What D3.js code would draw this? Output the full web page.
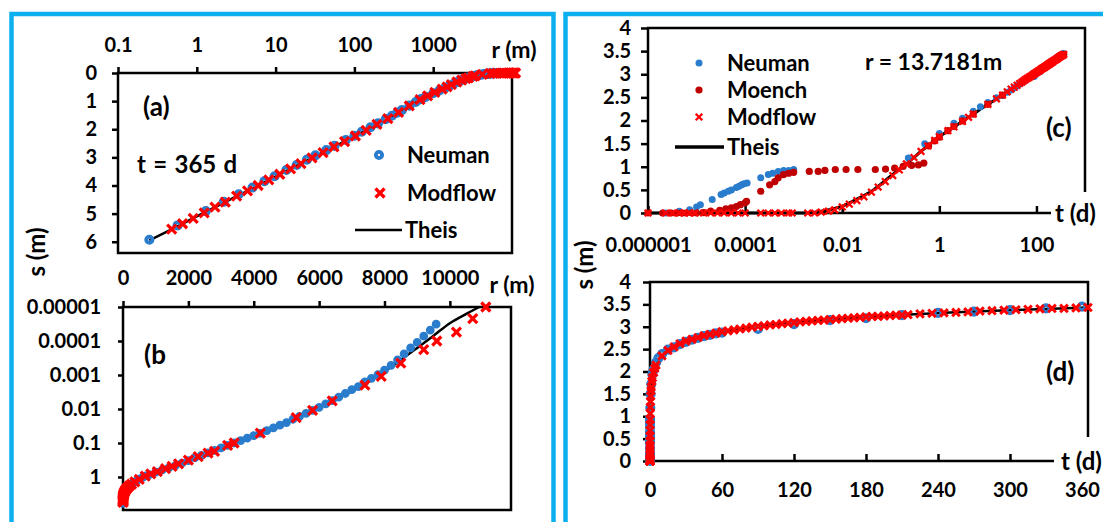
<!DOCTYPE html>
<html>
<head>
<meta charset="utf-8">
<script src="https://cdn.jsdelivr.net/npm/d3@7"></script>
<style>
  body { margin: 0; background: #fff; }
</style>
</head>
<body>
<svg id="chart"></svg>
<script>
// ---- data: panels (a) and (b), drawdown s (m) against distance r (m) at t = 365 d ----
const neumanR = [0.25, 0.57, 1.3, 2.2, 3.4, 5.1, 7.2, 9.7, 13.7, 18.5,
  25, 32, 44, 56, 78, 100, 124, 160, 200, 250,
  300, 350, 400, 500, 600, 700, 800,
  1000, 1200, 1400, 1600, 1800, 2000, 2200, 2400, 2600, 2800,
  3000, 3200, 3400, 3600, 3800, 4000, 4200, 4400, 4600, 4800,
  5000, 5200, 5400, 5600, 5800, 6000, 6200, 6400, 6600, 6800,
  7000, 7200, 7400, 7600, 7800, 8000, 8200, 8400, 8600, 8800,
  9000, 9200, 9400, 9580];
const neumanS = [5.93, 5.42, 4.91, 4.58, 4.31, 4.07, 3.85, 3.67, 3.45, 3.27,
  3.08, 2.93, 2.74, 2.59, 2.38, 2.23, 2.09, 1.93, 1.79, 1.64,
  1.52, 1.41, 1.32, 1.16, 1.03, 0.93, 0.85,
  0.72, 0.62, 0.54, 0.46, 0.39, 0.33, 0.27, 0.23, 0.195, 0.165,
  0.14, 0.118, 0.1, 0.085, 0.072, 0.061, 0.052, 0.043, 0.036, 0.03,
  0.025, 0.02, 0.0165, 0.0135, 0.011, 0.0089, 0.0071, 0.0057, 0.0045, 0.0035,
  0.0027, 0.0022, 0.0016, 0.00125, 0.00098, 0.00072, 0.00052, 0.00036, 0.00024, 0.00016,
  0.00011, 0.000072, 0.000048, 0.000032];

const modflowR = [0.48, 0.66, 0.9, 1.24, 1.7, 2.3, 3.2, 4.4, 6.0, 8.2,
  11.3, 15.5, 21, 29, 40, 55, 75, 103, 141, 193,
  265, 363, 497, 680, 850, 1050, 1300, 1500, 1700, 2000,
  2300, 2600, 2800, 3200, 3400, 4200, 5300, 5800, 6400, 7400,
  7900, 8500, 9200, 9600, 10200, 10700, 11100];
const modflowS = [5.55, 5.36, 5.17, 4.97, 4.77, 4.59, 4.38, 4.19, 4.0, 3.8,
  3.6, 3.41, 3.22, 3.02, 2.83, 2.63, 2.44, 2.24, 2.04, 1.83,
  1.62, 1.4, 1.17, 0.95, 0.81, 0.69, 0.57, 0.49, 0.41, 0.32,
  0.25, 0.2, 0.175, 0.118, 0.1, 0.051, 0.018, 0.011, 0.0058, 0.002,
  0.0011, 0.00045, 0.00018, 0.0001, 0.000055, 0.000022, 0.00001];

const theisR = [0.25, 0.5, 1, 2, 4, 8, 15, 30, 60, 120,
  250, 500, 750, 1000, 1500, 2000, 3000, 4000, 5000, 6000,
  7000, 7500, 8000, 8500, 9000, 9500, 10000, 10500, 10900];
const theisS = [5.95, 5.53, 5.1, 4.67, 4.25, 3.82, 3.43, 3.0, 2.57, 2.14,
  1.68, 1.17, 0.9, 0.72, 0.48, 0.32, 0.13, 0.058, 0.025, 0.009,
  0.003, 0.0016, 0.00078, 0.00036, 0.00016, 0.00007, 0.00003, 0.000016, 0.00001];

// ---- data: panels (c) and (d), drawdown s (m) against time t (d) at r = 13.7181 m ----
const neumanT = [2.3e-6, 4.4e-6, 7.2e-6, 1e-5, 1.2e-5, 2.1e-5, 3.2e-5, 3.7e-5, 4.5e-5, 5.2e-5,
  6.6e-5, 7.5e-5, 8.5e-5, 9.5e-5, 1.1e-4, 2.1e-4, 3e-4, 3.7e-4, 4.8e-4, 6.2e-4,
  7.9e-4, 1e-3, 0.23, 0.5, 1, 2, 3, 5, 7, 10,
  15, 20, 25, 30, 35, 40, 45, 50, 55, 60,
  90, 120, 150, 180, 210, 240, 270, 300, 330, 360];
const neumanTS = [0, 0.04, 0.07, 0.13, 0.18, 0.29, 0.4, 0.43, 0.47, 0.5,
  0.55, 0.58, 0.61, 0.63, 0.65, 0.76, 0.83, 0.86, 0.9, 0.92,
  0.92, 0.94, 1.19, 1.5, 1.72, 1.94, 2.05, 2.2, 2.3, 2.39,
  2.49, 2.54, 2.61, 2.66, 2.71, 2.75, 2.79, 2.82, 2.85, 2.87,
  2.95, 3.06, 3.15, 3.19, 3.26, 3.31, 3.34, 3.37, 3.41, 3.45];

const moenchT = [1e-6, 2e-6, 3e-6, 4e-6, 5e-6, 6e-6, 8e-6, 1e-5, 1.4e-5, 1.95e-5,
  3e-5, 4e-5, 5.2e-5, 6.6e-5, 8e-5, 1e-4, 1.07e-4, 2.1e-4, 3.2e-4, 4.1e-4,
  4.8e-4, 6.2e-4, 7.9e-4, 1e-3, 2.1e-3, 3.2e-3, 4.4e-3, 7.2e-3, 0.012, 0.021,
  0.048, 0.078, 0.12, 0.18, 0.27, 0.37, 0.48, 0.6, 0.8, 1,
  1.5, 2, 3, 5, 10, 20, 50, 100, 200, 365];
const moenchTS = [0, 0, 0, 0, 0, 0, 0, 0, 0.01, 0.04,
  0.06, 0.09, 0.11, 0.14, 0.18, 0.22, 0.25, 0.47, 0.61, 0.68,
  0.76, 0.83, 0.86, 0.88, 0.9, 0.9, 0.92, 0.94, 0.94, 0.94,
  0.94, 0.95, 0.97, 1.01, 1.03, 1.04, 1.08, 1.45, 1.56, 1.64,
  1.78, 1.87, 1.99, 2.14, 2.35, 2.55, 2.83, 3.04, 3.25, 3.43];

const modflowT = [1e-6, 2.3e-6, 3.2e-6, 4.4e-6, 5.6e-6, 7.2e-6, 9.3e-6, 1.4e-5, 1.95e-5, 2.7e-5,
  3.7e-5, 5.2e-5, 7.2e-5, 1e-4, 2.1e-4, 3e-4, 4.1e-4, 5.6e-4, 7.9e-4, 9.3e-4,
  1.95e-3, 2.7e-3, 3.7e-3, 5.2e-3, 7e-3, 0.01, 0.014, 0.02, 0.028, 0.04,
  0.055, 0.077, 0.11, 0.15, 0.21, 0.3, 0.42, 0.58, 0.8, 1,
  1.5, 2, 3, 4,
  5, 10, 15, 20, 25, 30, 35, 40, 45, 50, 55, 60, 65, 70, 75, 80, 85, 90, 95, 100,
  105, 110, 115, 120, 125, 130, 135, 140, 145, 150, 155, 160, 165, 170, 175, 180,
  185, 190, 195, 200, 205, 210,
  215, 225, 235, 245, 255, 265, 275, 285, 295, 305, 315, 325, 335, 345, 355, 365];
const modflowTS = [0, 0, 0, 0, 0, 0, 0, 0, 0, 0,
  0, 0, 0, 0, 0, 0, 0, 0, 0, 0,
  0, 0, 0.02, 0.04, 0.07, 0.13, 0.19, 0.27, 0.35, 0.45,
  0.56, 0.68, 0.81, 0.93, 1.06, 1.2, 1.33, 1.45, 1.57, 1.65,
  1.78, 1.86, 1.98, 2.07,
  2.14, 2.35, 2.47, 2.55, 2.62, 2.68, 2.72, 2.76, 2.8, 2.83, 2.86, 2.89, 2.91, 2.93, 2.95, 2.97, 2.99, 3.01, 3.02, 3.04,
  3.05, 3.07, 3.08, 3.09, 3.11, 3.12, 3.13, 3.14, 3.15, 3.16, 3.17, 3.18, 3.19, 3.2, 3.21, 3.22,
  3.23, 3.23, 3.24, 3.25, 3.26, 3.26,
  3.27, 3.29, 3.3, 3.31, 3.32, 3.33, 3.35, 3.36, 3.37, 3.38, 3.39, 3.4, 3.41, 3.41, 3.42, 3.43];

const theisT = [1e-6, 1e-3, 0.0016, 0.003, 0.006, 0.01, 0.02, 0.044, 0.1, 0.23,
  0.5, 1, 2, 5, 10, 20, 40, 60, 100, 150,
  200, 250, 300, 365];
const theisTS = [0, 0, 0, 0.02, 0.08, 0.15, 0.3, 0.5, 0.8, 1.1,
  1.4, 1.65, 1.86, 2.14, 2.35, 2.55, 2.76, 2.89, 3.04, 3.16,
  3.25, 3.32, 3.37, 3.43];

// ---- ticks ----
const aXTicks = [0.1, 1, 10, 100, 1000];
const aXLabels = ['0.1', '1', '10', '100', '1000'];
const aYTicks = [0, 1, 2, 3, 4, 5, 6];
const bXTicks = [0, 2000, 4000, 6000, 8000, 10000];
const bYTicks = [0.00001, 0.0001, 0.001, 0.01, 0.1, 1];
const bYLabels = ['0.00001', '0.0001', '0.001', '0.01', '0.1', '1'];
const cXTicks = [0.000001, 0.0001, 0.01, 1, 100];
const cXLabels = ['0.000001', '0.0001', '0.01', '1', '100'];
const sTicks = [0, 0.5, 1, 1.5, 2, 2.5, 3, 3.5, 4];
const dXTicks = [0, 60, 120, 180, 240, 300, 360];

const blue = '#2a7ccc';
const red = '#ff0000';
const darkRed = '#c00000';
const frameBlue = '#0db0ef';
const font = 'Lato, "Open Sans", sans-serif';
const tickFont = 20;
const legendFont = 22;

const svg = d3.select('#chart')
  .attr('width', 1103)
  .attr('height', 522);

svg.append('rect').attr('width', 1103).attr('height', 522).attr('fill', '#fff');

// blue frames round the two halves
svg.append('rect')
  .attr('x', 11.5).attr('y', 14).attr('width', 542).attr('height', 560)
  .attr('fill', 'none').attr('stroke', frameBlue).attr('stroke-width', 4.5);
svg.append('rect')
  .attr('x', 565.5).attr('y', 14).attr('width', 600).attr('height', 560)
  .attr('fill', 'none').attr('stroke', frameBlue).attr('stroke-width', 4.5);

// scales
const ax = d3.scaleLog().domain([0.1, 10000]).range([118, 512]);
const ay = d3.scaleLinear().domain([0, 6.4]).range([73, 253]);
const bx = d3.scaleLinear().domain([0, 11870]).range([123, 511]);
const by = d3.scaleLog().domain([1e-5, 10]).range([307, 511]);
const cx = d3.scaleLog().domain([1e-6, 1000]).range([648, 1085]);
const cy = d3.scaleLinear().domain([0, 4]).range([213, 28]);
const dx = d3.scaleLinear().domain([0, 365]).range([650, 1088]);
const dy = d3.scaleLinear().domain([0, 4]).range([461, 282]);

const zip = (xs, ys) => xs.map((d, i) => ({x: d, y: ys[i]}));

function styleAxis(g) {
  g.select('.domain').remove();
  g.attr('font-family', font).attr('font-size', tickFont).attr('font-weight', 700);
  g.selectAll('line').attr('stroke', '#000').attr('stroke-width', 2.5);
  g.selectAll('text').attr('fill', '#000');
}

function text(x, y, str, size, anchor) {
  return svg.append('text')
    .attr('x', x).attr('y', y)
    .attr('font-family', font).attr('font-weight', 700)
    .attr('font-size', size)
    .attr('text-anchor', anchor || 'start')
    .text(str);
}

function crossPath(s) {
  return `M${-s},${-s}L${s},${s}M${-s},${s}L${s},${-s}`;
}

function drawLine(data, x, y, width) {
  svg.append('path')
    .datum(data)
    .attr('fill', 'none')
    .attr('stroke', '#000')
    .attr('stroke-width', width)
    .attr('d', d3.line().x(d => x(d.x)).y(d => y(d.y)).curve(d3.curveMonotoneX));
}

function drawRings(data, x, y, r, sw, fill) {
  svg.append('g').selectAll('circle')
    .data(data)
    .enter()
    .append('circle')
    .attr('cx', d => x(d.x))
    .attr('cy', d => y(d.y))
    .attr('r', r)
    .attr('fill', fill || 'none')
    .attr('stroke', blue)
    .attr('stroke-width', sw);
}

function drawDots(data, x, y, r, color) {
  svg.append('g').selectAll('circle')
    .data(data)
    .enter()
    .append('circle')
    .attr('cx', d => x(d.x))
    .attr('cy', d => y(d.y))
    .attr('r', r)
    .attr('fill', color);
}

function drawCrosses(data, x, y, s, sw) {
  svg.append('g').selectAll('path')
    .data(data)
    .enter()
    .append('path')
    .attr('transform', d => `translate(${x(d.x)},${y(d.y)})`)
    .attr('d', crossPath(s))
    .attr('fill', 'none')
    .attr('stroke', red)
    .attr('stroke-width', sw);
}

// ================= panel (a) =================
svg.append('rect')
  .attr('x', 118).attr('y', 73).attr('width', 512 - 118).attr('height', 253 - 73)
  .attr('fill', 'none').attr('stroke', '#000').attr('stroke-width', 2.5);

svg.append('g')
  .attr('transform', 'translate(0,73)')
  .call(d3.axisTop(ax).tickValues(aXTicks).tickFormat((d, i) => aXLabels[i]).tickSize(6).tickPadding(15))
  .call(styleAxis);

svg.append('g')
  .attr('transform', 'translate(118,0)')
  .call(d3.axisLeft(ay).tickValues(aYTicks).tickFormat(d3.format('d')).tickSize(6).tickPadding(15))
  .call(styleAxis);

drawLine(zip(theisR, theisS), ax, ay, 2.5);
drawRings(zip(neumanR, neumanS), ax, ay, 3.1, 3.9);
drawCrosses(zip(modflowR, modflowS), ax, ay, 4.5, 3.2);

text(143, 116, '(a)', 26);
text(137, 173, 't = 365 d', 24).attr('word-spacing', 1.5);
text(514, 58, 'r (m)', 23, 'middle');

// legend (a)
svg.append('circle').attr('cx', 379).attr('cy', 155).attr('r', 3.1)
  .attr('fill', 'none').attr('stroke', blue).attr('stroke-width', 3.9);
text(407, 163, 'Neuman', legendFont);
svg.append('path').attr('transform', 'translate(380,193)').attr('d', crossPath(4.5))
  .attr('stroke', red).attr('stroke-width', 3.2);
text(407, 201, 'Modflow', legendFont);
svg.append('line').attr('x1', 355).attr('x2', 402).attr('y1', 230).attr('y2', 230)
  .attr('stroke', '#000').attr('stroke-width', 2.5);
text(405, 238, 'Theis', legendFont);

// ================= panel (b) =================
svg.append('rect')
  .attr('x', 123).attr('y', 307).attr('width', 511 - 123).attr('height', 510 - 307)
  .attr('fill', 'none').attr('stroke', '#000').attr('stroke-width', 2.5);

svg.append('g')
  .attr('transform', 'translate(0,307)')
  .call(d3.axisTop(bx).tickValues(bXTicks).tickFormat(d3.format('d')).tickSize(6).tickPadding(16))
  .call(styleAxis);

svg.append('g')
  .attr('transform', 'translate(123,0)')
  .call(d3.axisLeft(by).tickValues(bYTicks).tickFormat((d, i) => bYLabels[i]).tickSize(5).tickPadding(17))
  .call(styleAxis);

drawLine(zip(theisR, theisS), bx, by, 2.5);
drawRings(zip(neumanR, neumanS), bx, by, 3.2, 2.4, blue);
drawCrosses(zip(modflowR, modflowS), bx, by, 4.5, 3.2);

text(144, 364, '(b', 26);
text(512, 293, 'r (m)', 23, 'middle');

// shared y title of (a) and (b)
svg.append('text')
  .attr('transform', 'translate(45,252) rotate(-90)')
  .attr('font-family', font).attr('font-weight', 700).attr('font-size', 24)
  .attr('text-anchor', 'middle')
  .text('s (m)');

// ================= panel (c) =================
svg.append('path')
  .attr('d', `M${cx(1e-6)},${cy(0)}V${cy(4)}H1085V192`)
  .attr('fill', 'none').attr('stroke', '#000').attr('stroke-width', 2.5);
svg.append('line')
  .attr('x1', cx(1e-6)).attr('x2', 1051).attr('y1', cy(0)).attr('y2', cy(0))
  .attr('stroke', '#000').attr('stroke-width', 2.5);

svg.append('g')
  .attr('transform', `translate(0,${cy(0)})`)
  .call(d3.axisBottom(cx).tickValues(cXTicks).tickFormat((d, i) => cXLabels[i]).tickSize(-7).tickPadding(25))
  .call(styleAxis);

svg.append('g')
  .attr('transform', `translate(${cx(1e-6)},0)`)
  .call(d3.axisLeft(cy).tickValues(sTicks).tickFormat(d3.format('')).tickSize(7).tickPadding(10))
  .call(styleAxis);

drawLine(zip(theisT, theisTS), cx, cy, 3);
drawDots(zip(neumanT, neumanTS), cx, cy, 3.5, blue);
drawDots(zip(moenchT, moenchTS), cx, cy, 3.6, darkRed);
drawCrosses(zip(modflowT, modflowTS), cx, cy, 3.3, 2.3);

text(865, 70, 'r = 13.7181m', 23);
text(1046, 137, '(c)', 26);
svg.append('rect').attr('x', 1052).attr('y', 199).attr('width', 51).attr('height', 28).attr('fill', '#fff');
text(1055, 222, 't (d)', 24);

// legend (c)
svg.append('circle').attr('cx', 699).attr('cy', 63).attr('r', 3.5).attr('fill', blue);
text(727, 71, 'Neuman', legendFont);
svg.append('circle').attr('cx', 699).attr('cy', 90).attr('r', 3.6).attr('fill', darkRed);
text(727, 98, 'Moench', legendFont);
svg.append('path').attr('transform', 'translate(699,117)').attr('d', crossPath(3.3))
  .attr('stroke', red).attr('stroke-width', 2.3);
text(727, 125, 'Modflow', legendFont);
svg.append('line').attr('x1', 675).attr('x2', 724).attr('y1', 147).attr('y2', 147)
  .attr('stroke', '#000').attr('stroke-width', 3.5);
text(727, 155, 'Theis', legendFont);

// ================= panel (d) =================
svg.append('path')
  .attr('d', `M${dx(0)},${dy(0)}V${dy(4)}H1088V437`)
  .attr('fill', 'none').attr('stroke', '#000').attr('stroke-width', 2.5);
svg.append('line')
  .attr('x1', dx(0)).attr('x2', 1054).attr('y1', dy(0)).attr('y2', dy(0))
  .attr('stroke', '#000').attr('stroke-width', 2.5);

svg.append('g')
  .attr('transform', `translate(0,${dy(0)})`)
  .call(d3.axisBottom(dx).tickValues(dXTicks).tickFormat(d3.format('d')).tickSize(-7).tickPadding(22))
  .call(styleAxis);

svg.append('g')
  .attr('transform', `translate(${dx(0)},0)`)
  .call(d3.axisLeft(dy).tickValues(sTicks).tickFormat(d3.format('')).tickSize(7).tickPadding(12))
  .call(styleAxis);

drawLine(zip(theisT, theisTS), dx, dy, 2.5);
drawRings(zip(neumanT, neumanTS), dx, dy, 3.3, 3.6);
drawCrosses(zip(modflowT, modflowTS), dx, dy, 3.8, 3);

text(1046, 381, '(d)', 26);
svg.append('rect').attr('x', 1058).attr('y', 447).attr('width', 45).attr('height', 28).attr('fill', '#fff');
text(1061, 470, 't (d)', 24);

// shared y title of (c) and (d)
svg.append('text')
  .attr('transform', 'translate(593,265) rotate(-90)')
  .attr('font-family', font).attr('font-weight', 700).attr('font-size', 24)
  .attr('text-anchor', 'middle')
  .text('s (m)');
</script>
</body>
</html>
